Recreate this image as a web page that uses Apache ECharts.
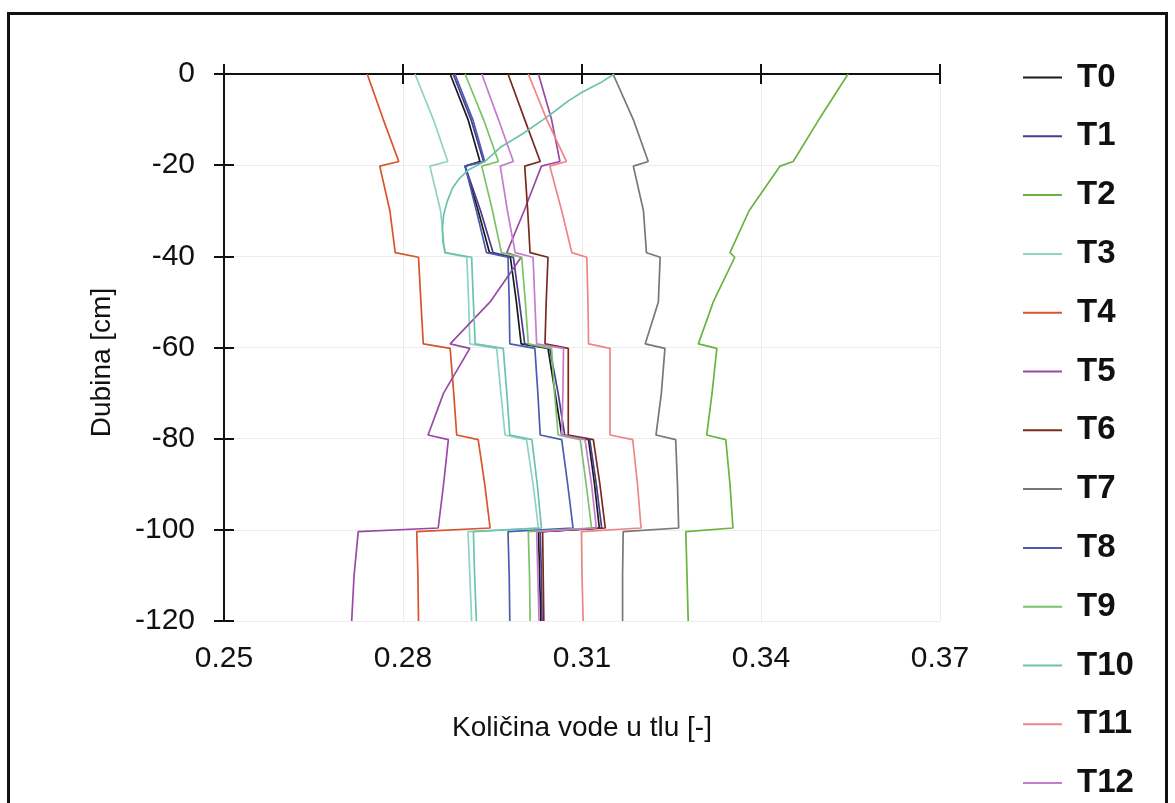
<!DOCTYPE html>
<html><head><meta charset="utf-8">
<script src="https://cdn.jsdelivr.net/npm/echarts@6/dist/echarts.min.js"></script>
<style>
html,body{margin:0;padding:0;background:#fff;}
#frame{position:absolute;left:7px;top:12px;width:1161px;height:830px;border:3px solid #111;box-sizing:border-box;}
#chart{position:absolute;left:0;top:0;width:1175px;height:803px;}
</style>
</head><body>
<div id="frame"></div>
<div id="chart"></div>
<script>
// Depth points (cm) shared by the layered profiles
var depths = [0, -10, -19.2, -20.2, -30, -39.2, -40.2, -50, -59.2, -60.2, -70, -79.2, -80.2, -90, -99.6, -100.4, -110, -120];
// Depth points for the smooth T10 profile
var depthsT10 = [0, -2, -4, -6, -8, -10, -13, -16, -19.2, -21, -23, -25, -28, -31, -34, -37, -39.2, -40.2, -50, -59.2, -60.2, -70, -79.2, -80.2, -90, -99.6, -100.4, -110, -120];

var seriesNames = ['T0','T1','T2','T3','T4','T5','T6','T7','T8','T9','T10','T11','T12'];
var seriesColors = ['#1a1a1a','#4b3b8f','#6ab33f','#8fd3c2','#d9532c','#9a4aa6','#7a2a1c','#777777','#4a5cb0','#7cc266','#6cc1b0','#ef8585','#c47dcc'];

var t0  = [0.2879,0.2909,0.2929,0.2904,0.2926,0.2945,0.2980,0.2990,0.2998,0.3043,0.3055,0.3066,0.3111,0.3121,0.3129,0.3027,0.3029,0.3031];
var t1  = [0.2884,0.2914,0.2935,0.2904,0.2930,0.2951,0.2985,0.2995,0.3004,0.3046,0.3060,0.3071,0.3113,0.3124,0.3133,0.3030,0.3032,0.3033];
var t2  = [0.3546,0.3497,0.3454,0.3432,0.3380,0.3348,0.3356,0.3320,0.3295,0.3326,0.3318,0.3309,0.3341,0.3348,0.3353,0.3274,0.3276,0.3278];
var t3  = [0.2820,0.2851,0.2875,0.2845,0.2863,0.2870,0.2907,0.2910,0.2912,0.2957,0.2964,0.2971,0.3007,0.3018,0.3027,0.2909,0.2912,0.2915];
var t4  = [0.2740,0.2767,0.2793,0.2761,0.2778,0.2787,0.2826,0.2830,0.2834,0.2879,0.2885,0.2890,0.2926,0.2937,0.2946,0.2823,0.2825,0.2826];
var t5  = [0.3027,0.3049,0.3063,0.3032,0.3003,0.2974,0.2998,0.2946,0.2879,0.2912,0.2868,0.2842,0.2876,0.2868,0.2859,0.2725,0.2718,0.2714];
var t6  = [0.2976,0.3004,0.3030,0.3004,0.3009,0.3013,0.3043,0.3040,0.3038,0.3077,0.3077,0.3077,0.3119,0.3130,0.3139,0.3034,0.3035,0.3036];
var t7  = [0.3152,0.3186,0.3211,0.3186,0.3203,0.3208,0.3231,0.3228,0.3206,0.3239,0.3233,0.3224,0.3257,0.3260,0.3262,0.3169,0.3168,0.3168];
var t8  = [0.2887,0.2917,0.2937,0.2904,0.2923,0.2940,0.2976,0.2978,0.2979,0.3021,0.3026,0.3030,0.3066,0.3076,0.3085,0.2976,0.2978,0.2979];
var t9  = [0.2904,0.2935,0.2960,0.2932,0.2950,0.2965,0.2999,0.3005,0.3010,0.3049,0.3054,0.3060,0.3097,0.3107,0.3116,0.3010,0.3012,0.3013];
var t10 = [0.3154,0.3130,0.3100,0.3076,0.3056,0.3035,0.3002,0.2964,0.2937,0.2910,0.2894,0.2883,0.2874,0.2868,0.2866,0.2867,0.2871,0.2915,0.2918,0.2921,0.2968,0.2974,0.2979,0.3016,0.3025,0.3032,0.2918,0.2920,0.2923];
var t11 = [0.3010,0.3041,0.3074,0.3046,0.3066,0.3083,0.3108,0.3110,0.3111,0.3147,0.3147,0.3147,0.3185,0.3193,0.3199,0.3099,0.3100,0.3102];
var t12 = [0.2932,0.2960,0.2985,0.2963,0.2975,0.2988,0.3018,0.3021,0.3024,0.3069,0.3068,0.3066,0.3105,0.3116,0.3124,0.3024,0.3026,0.3028];

var xTicks = {min: 0.25, max: 0.37, step: 0.03};
var yTicks = {min: -120, max: 0, step: 20};

var allValues = [t0,t1,t2,t3,t4,t5,t6,t7,t8,t9,t10,t11,t12];

function pairs(vals, ds){ return vals.map(function(v,i){ return [v, ds[i]]; }); }

var series = allValues.map(function(vals, i){
  var ds = (seriesNames[i] === 'T10') ? depthsT10 : depths;
  return {
    name: seriesNames[i], type: 'line', data: pairs(vals, ds),
    symbol: 'none', showSymbol: false, smooth: false,
    lineStyle: {width: 1.7, color: seriesColors[i]},
    itemStyle: {color: seriesColors[i]},
    animation: false
  };
});

var fontFam = '"Liberation Sans", Arial, Helvetica, sans-serif';
var blackLine = {show: true, lineStyle: {color: '#111', width: 2}};

function xAx(pos, inside, main){
  return {
    type: 'value', min: xTicks.min, max: xTicks.max, interval: xTicks.step, position: pos,
    axisLine: main ? blackLine : {show: false},
    axisTick: {show: true, inside: inside, length: 10, lineStyle: {color: '#111', width: 2}},
    axisLabel: main && pos === 'bottom' ? {show: true, fontSize: 30, color: '#111', fontFamily: fontFam, margin: 23,
      formatter: function(v){ return v.toFixed(2); }} : {show: false},
    splitLine: main && pos === 'bottom' ? {show: true, lineStyle: {color: '#ececec', width: 1}} : {show: false},
    name: main && pos === 'bottom' ? 'Količina vode u tlu [-]' : '',
    nameLocation: 'middle', nameGap: 93,
    nameTextStyle: {fontSize: 28, color: '#111', fontFamily: fontFam}
  };
}
function yAx(inside, main){
  return {
    type: 'value', min: yTicks.min, max: yTicks.max, interval: yTicks.step, position: 'left',
    axisLine: main ? blackLine : {show: false},
    axisTick: {show: true, inside: inside, length: 10, lineStyle: {color: '#111', width: 2}},
    axisLabel: main ? {show: true, fontSize: 30, color: '#111', fontFamily: fontFam, margin: 29} : {show: false},
    splitLine: main ? {show: true, lineStyle: {color: '#ececec', width: 1}} : {show: false},
    name: main ? 'Dubina [cm]' : '',
    nameLocation: 'middle', nameRotate: 90, nameGap: 108,
    nameTextStyle: {fontSize: 28, color: '#111', fontFamily: fontFam, padding: [0, 30, 0, 0]}
  };
}

var chart = echarts.init(document.getElementById('chart'), null, {renderer: 'canvas'});
chart.setOption({
  backgroundColor: 'transparent',
  animation: false,
  grid: {left: 224, right: 235, top: 74, bottom: 182, containLabel: false},
  xAxis: [xAx('bottom', false, true), xAx('bottom', true, false), xAx('top', false, true), xAx('top', true, false)],
  yAxis: [yAx(false, true), yAx(true, false)],
  legend: {
    type: 'plain', orient: 'vertical', left: 1018, top: 56, height: 900, icon: 'rect',
    itemWidth: 39, itemHeight: 2, itemGap: 25.8,
    data: seriesNames,
    textStyle: {fontSize: 33, fontWeight: 'bold', color: '#111', fontFamily: fontFam, padding: [0,0,0,10]}
  },
  series: series
});
</script>
</body></html>
